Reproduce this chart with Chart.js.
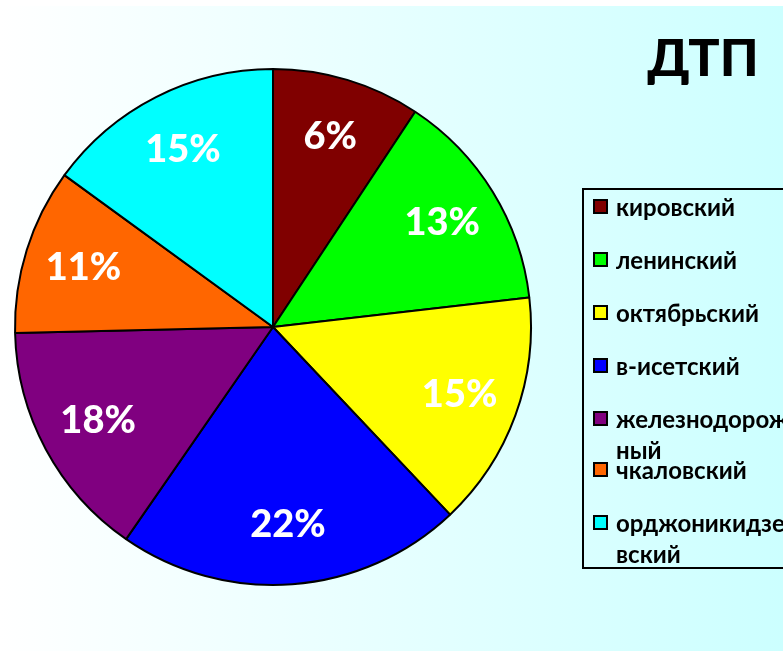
<!DOCTYPE html>
<html>
<head>
<meta charset="utf-8">
<script src="https://cdn.jsdelivr.net/npm/chart.js@4/dist/chart.umd.min.js"></script>
<style>
  html, body { margin: 0; padding: 0; }
  body { width: 783px; height: 651px; overflow: hidden;
         background: linear-gradient(to right, #ffffff 0%, #e6ffff 50%, #ccffff 100%); }
  #wrap { position: absolute; left: 0; top: 0; width: 783px; height: 651px; }
  #topband { position: absolute; left: 0; top: 0; width: 783px; height: 6px; background: #ffffff; }
</style>
</head>
<body>
<div id="topband"></div>
<div id="wrap"><canvas id="c" width="783" height="651"></canvas></div>
<script>
const chartTitle = 'ДТП';
const districts = ['кировский', 'ленинский', 'октябрьский', 'в-исетский', 'железнодорожный', 'чкаловский', 'орджоникидзевский'];
const legendLines = [['кировский'], ['ленинский'], ['октябрьский'], ['в-исетский'], ['железнодорож', 'ный'], ['чкаловский'], ['орджоникидзе', 'вский']];
const sliceShares = [9.3, 13.9, 14.8, 21.7, 15.0, 10.4, 15.0];
const percentLabels = ['6%', '13%', '15%', '22%', '18%', '11%', '15%'];
const sliceColors = ['#800000', '#00ff00', '#ffff00', '#0000ff', '#800080', '#ff6600', '#00ffff'];

const overlay = {
  id: 'overlay',
  afterDatasetsDraw(chart) {
    const ctx = chart.ctx;
    const meta = chart.getDatasetMeta(0);
    ctx.save();
    ctx.fillStyle = '#ffffff';
    ctx.font = '900 38px Lato';
    ctx.textAlign = 'center';
    ctx.textBaseline = 'middle';
    meta.data.forEach((arc, i) => {
      const p = arc.getProps(['x', 'y', 'startAngle', 'endAngle', 'outerRadius'], true);
      const mid = (p.startAngle + p.endAngle) / 2;
      const r = p.outerRadius * 0.77;
      ctx.fillText(percentLabels[i], p.x + Math.cos(mid) * r, p.y + Math.sin(mid) * r);
    });
    ctx.restore();
  },
  afterDraw(chart) {
    const ctx = chart.ctx;
    ctx.save();
    // title
    ctx.fillStyle = '#000000';
    ctx.font = '900 52px Lato';
    ctx.textAlign = 'center';
    ctx.textBaseline = 'alphabetic';
    ctx.fillText(chartTitle, 703, 76);
    // legend box
    ctx.lineWidth = 2;
    ctx.strokeStyle = '#000000';
    ctx.strokeRect(583, 189, 230, 379);
    const rowY = [207, 260, 313, 366, 419, 470, 523];
    ctx.font = 'bold 24px Lato';
    ctx.textAlign = 'left';
    ctx.textBaseline = 'middle';
    legendLines.forEach((lines, i) => {
      const y = rowY[i];
      ctx.fillStyle = sliceColors[i];
      ctx.fillRect(594, y - 7, 13, 13);
      ctx.lineWidth = 2;
      ctx.strokeStyle = '#000000';
      ctx.strokeRect(594, y - 7, 13, 13);
      ctx.fillStyle = '#000000';
      lines.forEach((t, k) => ctx.fillText(t, 616, y + 1 + k * 31));
    });
    ctx.restore();
  }
};

new Chart(document.getElementById('c'), {
  type: 'pie',
  data: {
    labels: districts,
    datasets: [{
      data: sliceShares,
      backgroundColor: sliceColors,
      borderColor: '#000000',
      borderWidth: 2,
      borderAlign: 'center'
    }]
  },
  options: {
    responsive: false,
    animation: false,
    layout: { padding: { left: 14, top: 68, right: 251, bottom: 65 } },
    plugins: {
      legend: { display: false },
      title: { display: false },
      tooltip: { enabled: false }
    }
  },
  plugins: [overlay]
});
</script>
</body>
</html>
